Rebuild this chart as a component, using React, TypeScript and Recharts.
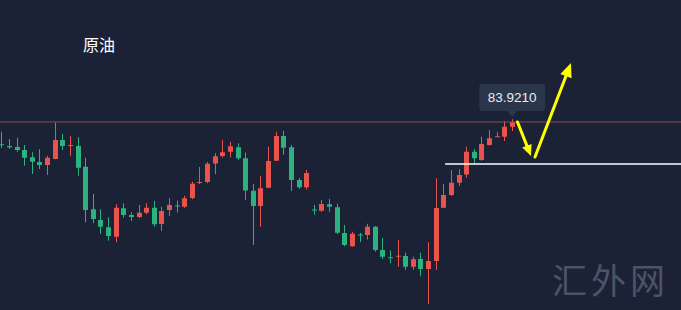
// 原油 K线走势
import { ComposedChart, Bar, XAxis, YAxis, ReferenceLine, ReferenceDot } from 'recharts';

const opens = [
  83.03, 82.96, 82.92, 82.8, 82.51, 82.32, 82.2, 82.44, 83.2, 82.96,
  82.96, 82.13, 80.43, 80.0, 79.71, 79.33, 80.47, 80.2, 80.12, 80.29,
  80.49, 79.84, 80.4, 80.58, 80.53, 80.88, 81.48, 81.52, 82.26, 82.56,
  82.73, 82.91, 82.47, 81.17, 80.56, 81.29, 82.37, 83.36, 82.91, 81.6,
  81.31, 80.42, 80.37, 80.63, 80.51, 79.48, 78.95, 79.42, 79.4, 79.73,
  78.8, 78.51, 78.54, 78.56, 78.13, 78.44, 78.04, 78.36, 80.49, 81.0,
  81.49, 81.82, 82.73, 82.4, 83.0, 83.32, 83.33, 83.73,
];
const highs = [
  83.53, 83.24, 83.29, 83.0, 82.71, 82.83, 82.57, 83.91, 83.44, 83.37,
  83.31, 82.49, 81.04, 80.43, 80.11, 80.63, 80.67, 80.31, 80.6, 80.67,
  80.76, 80.53, 80.87, 80.78, 80.97, 81.53, 82.12, 82.32, 82.67, 83.2,
  83.13, 83.07, 82.7, 81.44, 81.76, 82.93, 83.52, 83.57, 83.0, 81.67,
  82.0, 80.6, 80.8, 80.84, 80.65, 79.8, 79.53, 79.48, 79.85, 79.76,
  79.28, 78.78, 79.2, 78.69, 78.53, 78.69, 79.11, 81.67, 81.44, 82.0,
  82.03, 82.93, 82.84, 83.33, 83.6, 83.53, 83.96, 84.03,
];
const lows = [
  82.88, 82.84, 82.73, 82.17, 81.84, 82.04, 81.8, 82.43, 82.8, 82.57,
  81.77, 79.91, 79.87, 79.44, 79.17, 79.11, 80.1, 79.96, 80.07, 80.23,
  79.73, 79.56, 80.16, 80.3, 80.49, 80.83, 81.44, 81.47, 81.83, 82.5,
  82.5, 82.4, 80.81, 79.0, 79.73, 81.27, 82.36, 82.61, 81.16, 81.24,
  81.22, 80.21, 80.33, 80.33, 79.44, 78.95, 78.93, 79.11, 79.22, 78.73,
  78.44, 78.27, 78.13, 78.0, 78.0, 77.75, 76.64, 78.0, 80.47, 80.96,
  81.36, 81.69, 82.25, 82.37, 82.97, 83.31, 83.16, 83.56,
];
const closes = [
  83.0, 82.91, 82.8, 82.49, 82.33, 82.2, 82.49, 83.2, 82.96, 83.0,
  82.09, 80.4, 80.04, 79.73, 79.36, 80.49, 80.2, 80.12, 80.29, 80.49,
  79.83, 80.36, 80.6, 80.54, 80.87, 81.45, 81.52, 82.25, 82.55, 82.71,
  82.95, 82.47, 81.18, 80.56, 81.27, 82.36, 83.36, 82.89, 81.6, 81.31,
  81.88, 80.38, 80.64, 80.53, 79.49, 79.0, 79.45, 79.38, 79.73, 78.8,
  78.53, 78.47, 78.57, 78.13, 78.43, 78.04, 78.36, 80.48, 81.0, 81.49,
  81.8, 82.73, 82.47, 83.04, 83.27, 83.35, 83.73, 83.92,
];

const lastPrice = 83.921;
const supportLevel = 82.24;
const supportFrom = 58.2;
// 黄色箭头 (K线序号, 价格)
const arrowDown = [{ x: 67.69, y: 83.92 }, { x: 69.46, y: 82.56 }];
const arrowUp = [{ x: 69.99, y: 82.52 }, { x: 74.71, y: 86.28 }];

const RED = '#e8534c';
const GREEN = '#2bb27f';
const BG = '#1b2236';

const data = opens.map((o, i) => ({
  i,
  open: o,
  high: highs[i],
  low: lows[i],
  close: closes[i],
  range: [lows[i], highs[i]],
}));

function Candle(props: any) {
  const { x, y, width, height, payload } = props;
  if (!payload) return null;
  const top = Math.min(y, y + height);
  const h = Math.abs(height);
  const { open, close, high, low } = payload;
  const color = close >= open ? RED : GREEN;
  const k = h / (high - low);
  const cx = Math.round(x + width / 2) + 0.5;
  const yO = top + (high - open) * k;
  const yC = top + (high - close) * k;
  const bTop = Math.min(yO, yC);
  const bH = Math.max(1, Math.abs(yO - yC));
  return (
    <g>
      <line x1={cx} x2={cx} y1={top} y2={top + h} stroke={color} strokeWidth={1} />
      <rect x={cx - 2.5} y={bTop} width={5} height={bH} fill={color} />
    </g>
  );
}

function arrowShape(headLen: number, headHalf: number) {
  return (p: any) => {
    const { x1, y1, x2, y2 } = p;
    if (x1 == null) return null;
    const dx = x2 - x1;
    const dy = y2 - y1;
    const len = Math.sqrt(dx * dx + dy * dy) || 1;
    const ux = dx / len;
    const uy = dy / len;
    const bx = x2 - ux * headLen;
    const by = y2 - uy * headLen;
    const pts = `${x2},${y2} ${bx - uy * headHalf},${by + ux * headHalf} ${bx + uy * headHalf},${by - ux * headHalf}`;
    return (
      <g>
        <line x1={x1} y1={y1} x2={bx + ux * 2} y2={by + uy * 2} stroke="#ffff00" strokeWidth={3} strokeLinecap="round" />
        <polygon points={pts} fill="#ffff00" />
      </g>
    );
  };
}

function PriceTag(props: any) {
  const { cx, cy } = props;
  if (cx == null) return null;
  const w = 66;
  const h = 27;
  const bottom = cy - 11;
  return (
    <g>
      <rect x={cx - w / 2} y={bottom - h} width={w} height={h} rx={4} fill="#2c364b" />
      <polygon points={`${cx - 5},${bottom} ${cx + 5},${bottom} ${cx},${bottom + 6}`} fill="#2c364b" />
      <text
        x={cx}
        y={bottom - h / 2 + 5}
        textAnchor="middle"
        fill="#e9ecf2"
        fontSize={13.5}
        fontFamily="'Liberation Sans', Arial, sans-serif"
      >
        {lastPrice.toFixed(4)}
      </text>
    </g>
  );
}

export default function App() {
  return (
    <div style={{ position: 'absolute', left: 0, top: 0, width: 681, height: 310, background: BG, overflow: 'hidden' }}>
      <ComposedChart width={681} height={310} data={data} margin={{ top: 0, right: 0, bottom: 0, left: 0 }}>
        <XAxis dataKey="i" type="number" domain={[-0.22, 89.15]} hide allowDataOverflow />
        <YAxis type="number" domain={[76.4, 88.8]} hide allowDataOverflow />
        <ReferenceLine y={lastPrice} stroke="#8c4b4b" strokeWidth={1} />
        <Bar dataKey="range" barSize={5} shape={Candle} isAnimationActive={false} />
        <ReferenceLine
          segment={[{ x: supportFrom, y: supportLevel }, { x: 89.15, y: supportLevel }]}
          stroke="#ffffff"
          strokeWidth={1.5}
        />
        <ReferenceLine segment={arrowDown} shape={arrowShape(11, 5)} />
        <ReferenceLine segment={arrowUp} shape={arrowShape(14, 6)} />
        <ReferenceDot x={data.length - 1} y={lastPrice} r={0} shape={PriceTag} />
      </ComposedChart>
      <div
        style={{
          position: 'absolute',
          left: 83,
          top: 32,
          color: '#ffffff',
          fontSize: 16,
          fontFamily: "'Noto Sans CJK SC', sans-serif",
        }}
      >
        原油
      </div>
      <div
        style={{
          position: 'absolute',
          left: 552,
          top: 253,
          color: '#4b5367',
          fontSize: 35,
          letterSpacing: 4,
          fontFamily: "'Noto Sans CJK SC', sans-serif",
        }}
      >
        汇外网
      </div>
    </div>
  );
}
